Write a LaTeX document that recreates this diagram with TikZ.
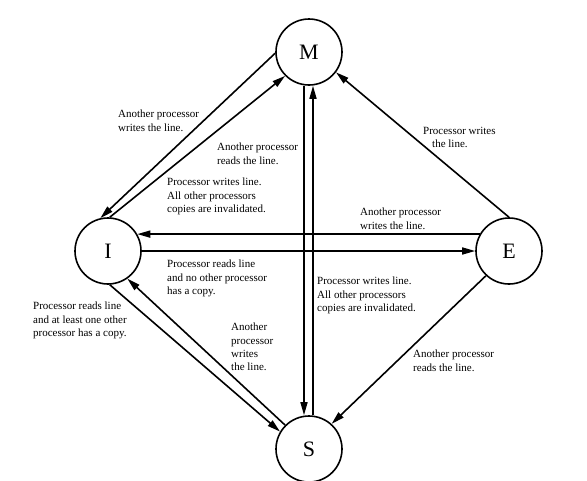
\documentclass[tikz,border=0pt]{standalone}
\usepackage{fontspec}
\setmainfont{Liberation Serif}
\usetikzlibrary{arrows.meta}
\tikzset{
  state/.style={draw,circle,line width=1.6pt,minimum size=66pt,inner sep=0pt,
    font=\fontsize{22}{24}\selectfont},
  trans/.style={line width=1.6pt,-{Triangle[length=13pt,width=7pt]}},
  note/.style={anchor=north west,inner sep=0pt,align=left,
    font=\fontsize{11}{13.2}\selectfont}
}
\begin{document}
\begin{tikzpicture}[x=1pt,y=-1pt]
\useasboundingbox (0,0) rectangle (587,480);

\foreach \n/\x/\y in {M/309/52,I/108/251,E/509/251,S/309/449}
  \node[state] (\n) at (\x,\y) {\n};

\draw[trans] (M.182) -- (I.103);
\draw[trans] (I.87) -- (M.225);
\draw[trans] ([xshift=-5pt]M.south) -- ([xshift=-5pt]S.north);
\draw[trans] ([xshift=4pt]S.north) -- ([xshift=4pt]M.south);
\draw[trans] (E.150) -- (I.30);
\draw[trans] (I.east) -- (E.west);
\draw[trans] (E.90) -- (M.-37);
\draw[trans] (E.227) -- (S.48);
\draw[trans] (I.273) -- (S.149);
\draw[trans] (S.135) -- (I.305);

\node[note] (mi) at (118,110) {Another processor\\writes the line.};
\node[note] (ms) at (217,143) {Another processor\\reads the line.};
\node[note] (im) at (167,178) {Processor writes line.\\All other processors\\copies are invalidated.};
\node[note] (em) at (423,127) {Processor writes\\\hspace*{9pt}the line.};
\node[note] (ei) at (360,208) {Another processor\\writes the line.};
\node[note] (ie) at (167,260) {Processor reads line\\and no other processor\\has a copy.};
\node[note] (sm) at (317,277) {Processor writes line.\\All other processors\\copies are invalidated.};
\node[note] (is) at (33,302) {Processor reads line\\and at least one other\\processor has a copy.};
\node[note] (si) at (231,323) {Another\\processor\\writes\\the line.};
\node[note] (es) at (413,350) {Another processor\\reads the line.};
\end{tikzpicture}
\end{document}
